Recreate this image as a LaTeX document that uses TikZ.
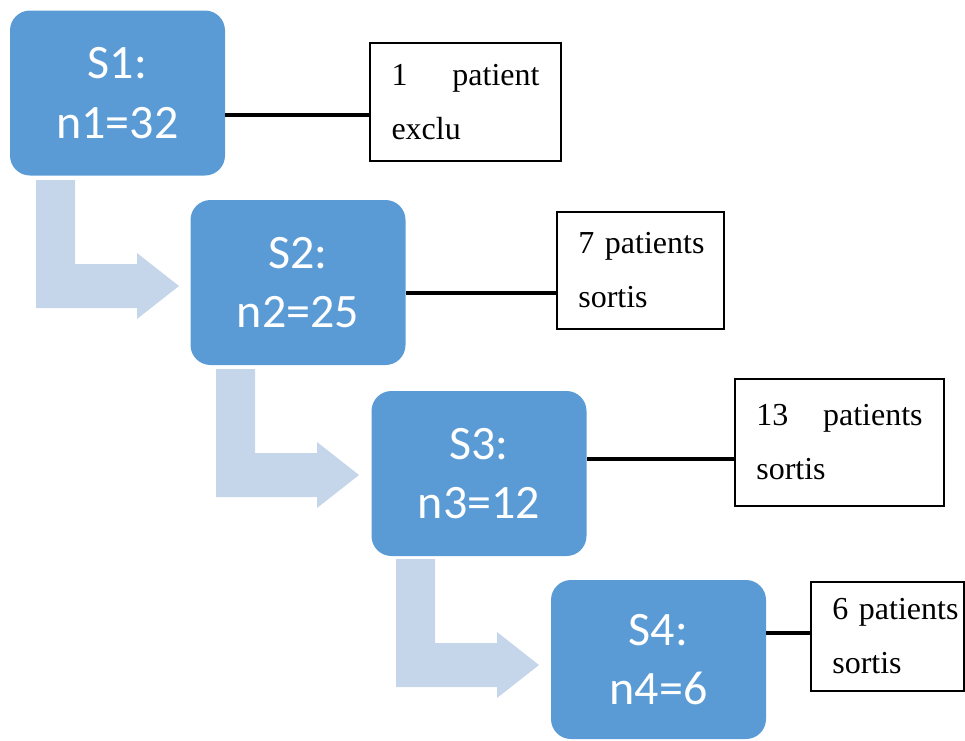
\documentclass[tikz,border=0pt]{standalone}
\usepackage{fontspec}
\setmainfont{Liberation Serif}
\newfontfamily\calibri{Carlito}
\usepackage{xcolor}
\usetikzlibrary{positioning}
\definecolor{stageblue}{HTML}{5B9BD5}
\definecolor{arrowblue}{HTML}{C5D6EB}

\begin{document}
\begin{tikzpicture}[x=0.75pt, y=-0.75pt,
		stage/.style={fill=stageblue, rounded corners=15pt, minimum width=161.25pt, minimum height=123.75pt, text=white, align=center, font=\calibri\fontsize{36}{44.5}\selectfont},
		note/.style={draw, line width=1.7pt, inner xsep=16pt, align=left, font=\fontsize{24}{40.5}\selectfont},
		link/.style={line width=2.6pt},
		bent/.style={fill=arrowblue}]
			\useasboundingbox (0,0) rectangle (965,740);
			% bent arrows between the stages
			\foreach \x/\y in {36/180, 216/369, 396/559}
				\fill[bent] (\x,\y) -- ++(39,0) -- ++(0,84) -- ++(62,0) -- ++(0,-11) -- ++(42,33) -- ++(-42,33) -- ++(0,-11) -- ++(-101,0) -- cycle;
			\node [stage] (s1) at (117.5,93) {S1:\\n1=32};
			\node [stage] (s2) at (298,282.5) {S2:\\n2=25};
			\node [stage] (s3) at (479,473.5) {S3:\\n3=12};
			\node [stage, minimum height=119.25pt] (s4) at (658.5,659.5) {S4:\\n4=6};
			\node [note, text width=111pt, minimum width=143.25pt, minimum height=88.5pt] (t1) at (465.5,102) {1 \hfill patient\\exclu};
			\node [note, text width=93.25pt, minimum width=125.25pt, minimum height=87.75pt] (t2) at (640.5,270.5) {\mbox{7 patients}\\sortis};
			\node [note, text width=124.75pt, minimum width=156.75pt, minimum height=95.25pt] (t3) at (839.5,442.5) {13 \hfill patients\\sortis};
			\node [note, text width=82.75pt, minimum width=114.75pt, minimum height=81.75pt] (t4) at (887.5,636.5) {\mbox{6 patients}\\sortis};
			\draw [link] (s1.east |- 0,115) -- (t1.west |- 0,115);
			\draw [link] (s2.east |- 0,293) -- (t2.west |- 0,293);
			\draw [link] (s3.east |- 0,459) -- (t3.west |- 0,459);
			\draw [link] (s4.east |- 0,633) -- (t4.west |- 0,633);
		\end{tikzpicture}
\end{document}
